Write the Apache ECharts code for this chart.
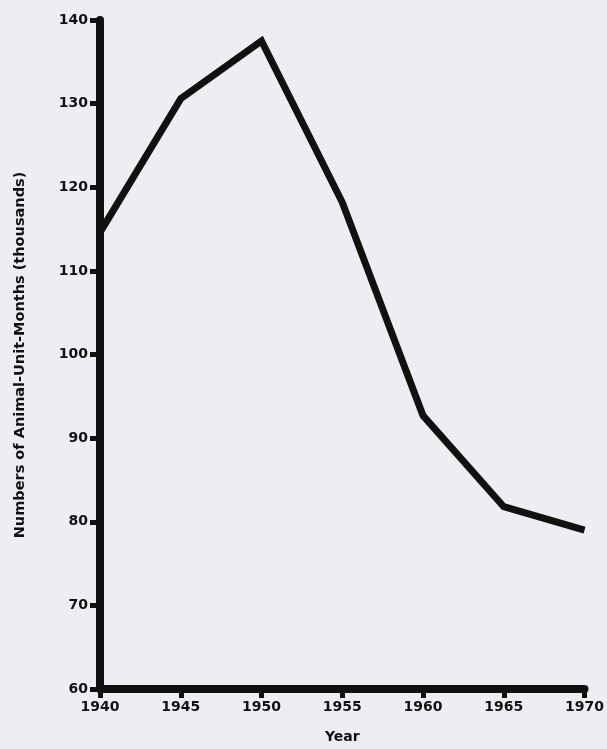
<!DOCTYPE html>
<html>
<head>
<meta charset="utf-8">
<script src="https://cdn.jsdelivr.net/npm/echarts@6/dist/echarts.min.js"></script>
<style>
html,body{margin:0;padding:0;background:#eceef2;}
#c{width:607px;height:749px;}
</style>
</head>
<body>
<div id="c"></div>
<script>
const years = [1940, 1945, 1950, 1955, 1960, 1965, 1970];
const aums = [114.6, 130.6, 137.5, 118.2, 92.7, 81.8, 79.0];
const xTicks = [1940, 1945, 1950, 1955, 1960, 1965, 1970];
const yTicks = [60, 70, 80, 90, 100, 110, 120, 130, 140];
const xTitle = 'Year';
const yTitle = 'Numbers of Animal-Unit-Months (thousands)';

const chart = echarts.init(document.getElementById('c'));
const font = '"DejaVu Sans", sans-serif';
chart.setOption({
  backgroundColor: '#eceef2',
  animation: false,
  grid: {left: 100, right: 20, top: 20, bottom: 57},
  xAxis: {
    type: 'value', min: 1940, max: 1970, interval: 5,
    name: xTitle, nameLocation: 'middle', nameGap: 41,
    nameTextStyle: {color: '#111', fontFamily: font, fontWeight: 'bold', fontSize: 14},
    axisLine: {show: true, lineStyle: {color: '#111', width: 8}},
    axisTick: {show: true, length: 9, lineStyle: {color: '#111', width: 5}},
    axisLabel: {color: '#111', fontFamily: font, fontWeight: 'bold', fontSize: 14, margin: 11,
      formatter: v => String(v)},
    splitLine: {show: false}
  },
  yAxis: {
    type: 'value', min: 60, max: 140, interval: 10,
    axisLine: {show: true, lineStyle: {color: '#111', width: 8}},
    axisTick: {show: true, length: 10, lineStyle: {color: '#111', width: 5}},
    axisLabel: {color: '#111', fontFamily: font, fontWeight: 'bold', fontSize: 14, margin: 12,
      formatter: v => String(v)},
    splitLine: {show: false}
  },
  graphic: [{
    type: 'text', x: 20, y: 355, rotation: Math.PI / 2,
    style: {text: yTitle, fill: '#111', font: 'bold 14.5px ' + font, align: 'center', verticalAlign: 'middle'}
  }],
  series: [{
    type: 'line',
    data: years.map((y, i) => [y, aums[i]]),
    symbol: 'none',
    lineStyle: {color: '#111', width: 7, join: 'miter'}
  }]
});
</script>
</body>
</html>
